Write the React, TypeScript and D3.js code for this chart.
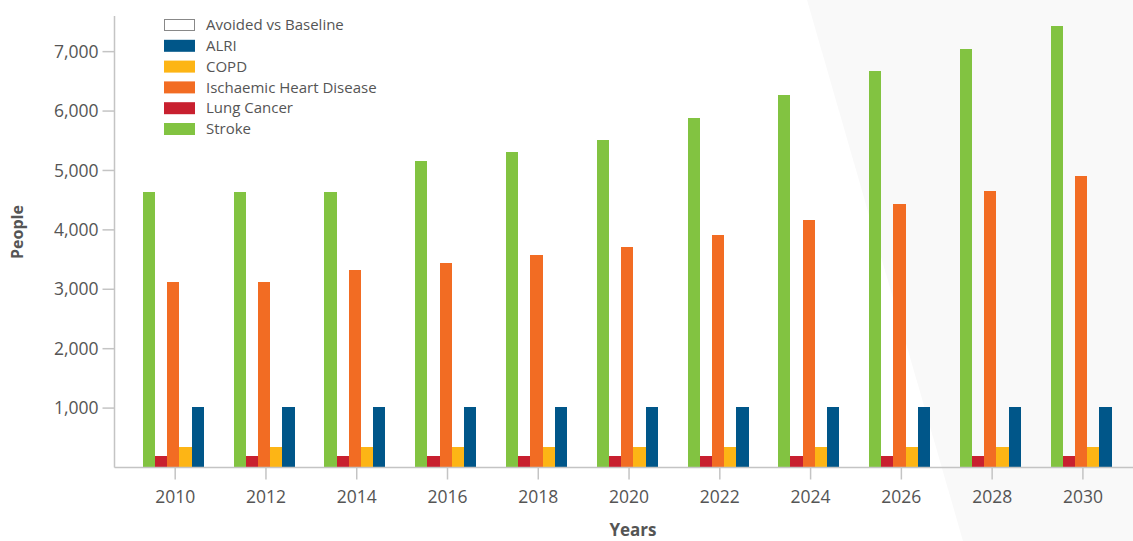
import React, { useRef, useEffect } from "react"
import * as d3 from "d3"

// years on the x axis
const years = ["2010", "2012", "2014", "2016", "2018", "2020", "2022", "2024", "2026", "2028", "2030"]

// people
const stroke = [4640, 4640, 4640, 5160, 5310, 5510, 5890, 6270, 6670, 7050, 7430]
const lungCancer = [195, 195, 195, 195, 195, 195, 195, 195, 195, 195, 195]
const ihd = [3120, 3120, 3330, 3440, 3580, 3710, 3920, 4170, 4440, 4650, 4910]
const copd = [345, 345, 345, 345, 345, 345, 345, 345, 345, 345, 345]
const alri = [1020, 1020, 1020, 1020, 1020, 1020, 1020, 1020, 1020, 1020, 1020]

const yTicks = [1000, 2000, 3000, 4000, 5000, 6000, 7000]

// bar order inside a group
const series = [
  { name: "Stroke", values: stroke, color: "#82c341" },
  { name: "Lung Cancer", values: lungCancer, color: "#c8202f" },
  { name: "Ischaemic Heart Disease", values: ihd, color: "#f26c23" },
  { name: "COPD", values: copd, color: "#fdb515" },
  { name: "ALRI", values: alri, color: "#005689" },
]

// legend order
const legendItems = [
  { name: "Avoided vs Baseline", color: "#ffffff", outline: true },
  { name: "ALRI", color: "#005689" },
  { name: "COPD", color: "#fdb515" },
  { name: "Ischaemic Heart Disease", color: "#f26c23" },
  { name: "Lung Cancer", color: "#c8202f" },
  { name: "Stroke", color: "#82c341" },
]

const W = 1133
const H = 541
const FONT = "'Open Sans', sans-serif"
const TEXT = "#555"
const AXIS = "#c4c4c4"

function BarChart() {
  const ref = useRef(null)

  useEffect(() => {
    const svg = d3.select(ref.current)
    svg.selectAll("*").remove()

    // light diagonal panel in the background
    svg.append("rect").attr("width", W).attr("height", H).attr("fill", "#fff")
    svg.append("polygon")
      .attr("points", `807,0 ${W},0 ${W},${H} 963,${H}`)
      .attr("fill", "#f9f9f9")

    const x0 = d3.scaleBand().domain(years).range([128, 1126.5]).paddingInner(0.328).paddingOuter(0.164)
    const x1 = d3.scaleBand().domain(series.map(s => s.name)).range([0, x0.bandwidth()])
    const y = d3.scaleLinear().domain([0, 7600]).range([467.5, 16])
    const tickShift = 1.8

    // bars
    const groups = svg.append("g").selectAll("g").data(years).enter().append("g")
      .attr("transform", d => `translate(${x0(d)},0)`)
    groups.selectAll("rect")
      .data((d, i) => series.map(s => ({ name: s.name, color: s.color, v: s.values[i] })))
      .enter().append("rect")
      .attr("x", d => x1(d.name))
      .attr("width", x1.bandwidth())
      .attr("y", d => y(d.v))
      .attr("height", d => y(0) - y(d.v))
      .attr("fill", d => d.color)
      .attr("shape-rendering", "crispEdges")

    // y axis
    const yAxis = svg.append("g").attr("transform", "translate(114.5,0)")
    yAxis.append("line").attr("y1", y.range()[1]).attr("y2", y(0)).attr("stroke", AXIS).attr("stroke-width", 1.5)
    const yt = yAxis.selectAll("g.tick").data(yTicks).enter().append("g").attr("transform", d => `translate(0,${y(d)})`)
    yt.append("line").attr("x1", -12).attr("x2", 0).attr("stroke", AXIS).attr("stroke-width", 1.5)
    yt.append("text")
      .attr("x", -16).attr("dy", "0.35em")
      .attr("text-anchor", "end")
      .style("font-family", FONT).style("font-size", "17.5px").attr("fill", TEXT)
      .text(d => d3.format(",")(d))

    // x axis
    const xAxis = svg.append("g").attr("transform", `translate(0,${y(0)})`)
    xAxis.append("line").attr("x1", 114.5).attr("x2", W).attr("stroke", AXIS).attr("stroke-width", 1.5)
    const xt = xAxis.selectAll("g.tick").data(years).enter().append("g")
      .attr("transform", d => `translate(${x0(d) + x0.bandwidth() / 2 + tickShift},0)`)
    xt.append("line").attr("y1", 0).attr("y2", 12).attr("stroke", AXIS).attr("stroke-width", 1.5)
    xt.append("text")
      .attr("y", 35)
      .attr("text-anchor", "middle")
      .style("font-family", FONT).style("font-size", "17.5px").attr("fill", TEXT)
      .text(d => d)

    // axis titles
    svg.append("text")
      .attr("x", 633).attr("y", 536)
      .attr("text-anchor", "middle")
      .style("font-family", FONT).style("font-size", "17px").style("font-weight", "bold")
      .attr("fill", TEXT)
      .text("Years")
    svg.append("text")
      .attr("transform", "translate(23,232) rotate(-90)")
      .attr("text-anchor", "middle")
      .style("font-family", FONT).style("font-size", "16px").style("font-weight", "bold")
      .attr("fill", TEXT)
      .text("People")

    // legend
    const legend = svg.append("g").attr("transform", "translate(164,19)")
    const li = legend.selectAll("g").data(legendItems).enter().append("g")
      .attr("transform", (d, i) => `translate(0,${i * 20.8})`)
    li.append("rect")
      .attr("x", d => d.outline ? 0.5 : 0).attr("y", d => d.outline ? 0.5 : 0)
      .attr("width", d => d.outline ? 30 : 31).attr("height", d => d.outline ? 11 : 12)
      .attr("fill", d => d.color)
      .attr("stroke", d => d.outline ? "#888" : "none")
    li.append("text")
      .attr("x", 42).attr("y", 6).attr("dy", "0.35em")
      .style("font-family", FONT).style("font-size", "15px").attr("fill", TEXT)
      .text(d => d.name)
  }, [])

  return (
    <svg ref={ref} width={W} height={H} style={{ position: "absolute", left: 0, top: 0 }}></svg>
  )
}

export default function App() {
  return <BarChart />
}
